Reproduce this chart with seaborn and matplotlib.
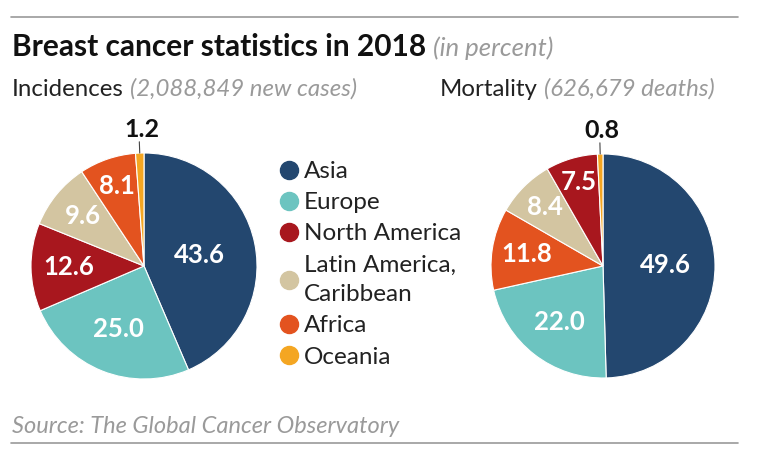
import numpy as np
import pandas as pd
import seaborn as sns
import matplotlib
matplotlib.use("Agg")
import matplotlib.pyplot as plt
from matplotlib.lines import Line2D

# ---------------- data ----------------
regions = ["Asia", "Europe", "North America", "Latin America,\nCaribbean", "Africa", "Oceania"]
region_colors = ["#23476f", "#6cc4c0", "#a8171e", "#d3c5a1", "#e3531f", "#f4a622"]

incid_regions = ["Asia", "Europe", "North America", "Latin America,\nCaribbean", "Africa", "Oceania"]
incid_values = [43.6, 25.0, 12.6, 9.6, 8.1, 1.2]

mort_regions = ["Asia", "Europe", "Africa", "Latin America,\nCaribbean", "North America", "Oceania"]
mort_values = [49.6, 22.0, 11.8, 8.4, 7.5, 0.8]

title = "Breast cancer statistics in 2018"
title_note = "(in percent)"
sub_left = "Incidences"
sub_left_note = "(2,088,849 new cases)"
sub_right = "Mortality"
sub_right_note = "(626,679 deaths)"
source = "Source: The Global Cancer Observatory"

# ---------------- style ----------------
sns.set_theme(style="white")
plt.rcParams["font.family"] = ["Lato", "DejaVu Sans"]
palette = dict(zip(regions, sns.color_palette(region_colors)))

W, H = 768, 465
fig = plt.figure(figsize=(W / 100, H / 100), dpi=100)
fig.patch.set_facecolor("white")

GRAY = "#9a9a9a"


def fx(px):
    return px / W


def fy(py):
    return 1 - py / H


def draw_pie(rect, names, values, dists):
    ax = fig.add_axes(rect)
    df = pd.DataFrame({"region": names, "value": values})
    wedges, _ = ax.pie(df["value"], colors=[palette[r] for r in df["region"]],
                       startangle=90, counterclock=False,
                       wedgeprops=dict(edgecolor="white", linewidth=0.8))
    ax.set_xlim(-1, 1)
    ax.set_ylim(-1, 1)
    ax.set_aspect("equal")
    ax.axis("off")
    for w, v, d in zip(wedges, df["value"], dists):
        th = np.deg2rad((w.theta1 + w.theta2) / 2)
        c, s = np.cos(th), np.sin(th)
        if v >= 2:
            ax.text(d * c, d * s, f"{v:.1f}", color="white", fontsize=18.5,
                    fontweight="bold", ha="center", va="center")
        else:
            ax.plot([c * 1.0, c * 1.1], [s * 1.0, s * 1.1], color="#444444",
                    lw=0.8, clip_on=False)
            ax.text(c * 1.1 + 0.02, s * 1.1 + 0.01, f"{v:.1f}", color="#111111",
                    fontsize=18, fontweight="bold", ha="center", va="bottom")
    return ax


draw_pie([fx(31), fy(379), fx(226), 226 / H], incid_regions, incid_values,
         [0.5, 0.6, 0.665, 0.70, 0.75, 1.2])
draw_pie([fx(491), fy(378), fx(224), 224 / H], mort_regions, mort_values,
         [0.56, 0.63, 0.69, 0.74, 0.78, 1.2])

# ---------------- texts ----------------
t = fig.text(fx(12), fy(56), title, fontsize=21.5, fontweight="bold",
             color="#111111", ha="left", va="baseline")
fig.canvas.draw()
bb = t.get_window_extent()
fig.text((bb.x1 + 7) / W, fy(56), title_note, fontsize=18.5, style="italic",
         color=GRAY, ha="left", va="baseline")

for x0, main, note in [(12, sub_left, sub_left_note), (440, sub_right, sub_right_note)]:
    s = fig.text(fx(x0), fy(96), main, fontsize=17.3, color="#222222",
                 ha="left", va="baseline")
    fig.canvas.draw()
    bb = s.get_window_extent()
    fig.text((bb.x1 + 6) / W, fy(96), note, fontsize=17.3, style="italic",
             color=GRAY, ha="left", va="baseline")

fig.text(fx(12), fy(433), source, fontsize=17, style="italic",
         color=GRAY, ha="left", va="baseline")

for yy in (17, 443):
    fig.add_artist(Line2D([fx(11), fx(738)], [fy(yy), fy(yy)], color="#9a9a9a",
                          lw=1.2, transform=fig.transFigure))

# ---------------- legend ----------------
handles = [Line2D([], [], marker="o", ls="", markersize=13, color=palette[r]) for r in regions]
leg = fig.legend(handles, regions, loc="upper left", bbox_to_anchor=(fx(277), fy(161)),
                 frameon=False, fontsize=17.5, handletextpad=0.1, labelspacing=0.42,
                 handlelength=1.0, borderaxespad=0, borderpad=0)
for txt in leg.get_texts():
    txt.set_color("#222222")
    txt.set_linespacing(1.5)

fig.savefig("out.png", dpi=100, facecolor="white")
